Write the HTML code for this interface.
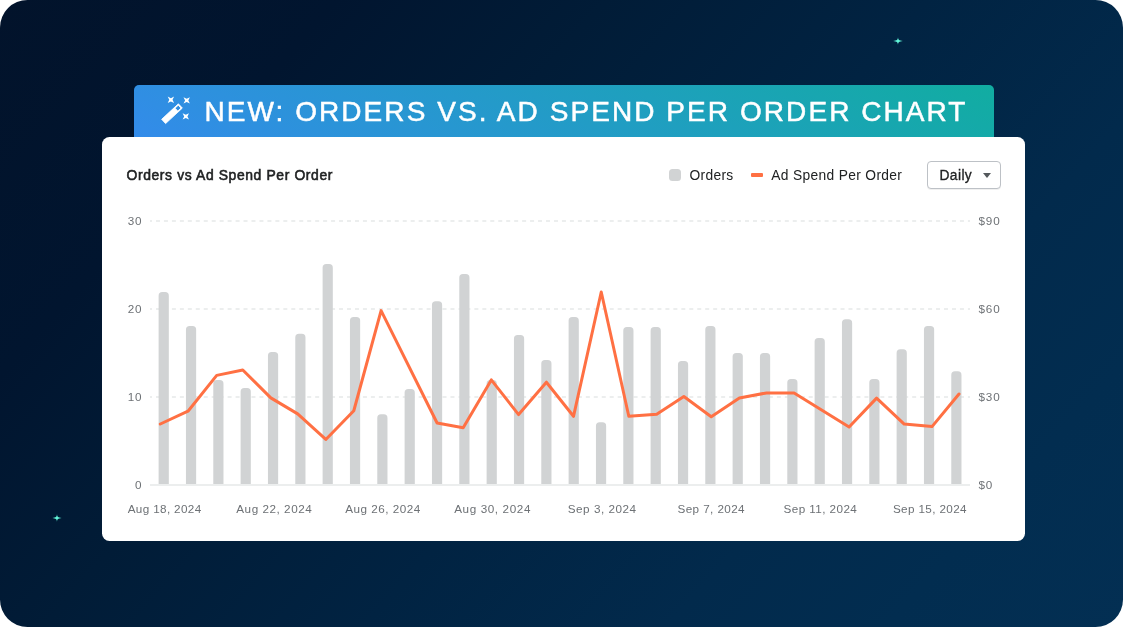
<!DOCTYPE html>
<html lang="en">
<head>
<meta charset="utf-8">
<title>New: Orders vs. Ad Spend Per Order Chart</title>
<style>
*{box-sizing:border-box;margin:0;padding:0}
html,body{width:1123px;height:627px;background:#fff;overflow:hidden}
body{position:relative;font-family:"Liberation Sans",sans-serif;color:#202223}
.bg{position:absolute;left:0;top:0;width:1123px;height:627px;border-radius:27.5px;
  background:linear-gradient(132deg,rgb(2,19,43) 0%,rgb(1,21,47) 20%,rgb(1,28,55) 36%,rgb(1,35,66) 55%,rgb(2,42,76) 73%,rgb(2,45,80) 86%,rgb(3,47,83) 100%)}
.star{position:absolute;width:12px;height:10px;overflow:visible}
.banner{position:absolute;left:134px;top:85px;width:860px;height:53px;border-radius:5px 5px 0 0;
  background:linear-gradient(28.4deg,rgb(51,139,234) 0%,rgb(17,173,161) 100%)}
.banner h1{position:absolute;left:70.5px;top:9.05px;height:36px;line-height:36px;white-space:nowrap;
  font-size:28px;font-weight:400;letter-spacing:2.065px;color:#fff;-webkit-text-stroke:0.5px #fff}
.wand{position:absolute;left:20px;top:6px;width:40px;height:40px;overflow:visible}
.card{position:absolute;left:102px;top:137px;width:923px;height:404px;border-radius:7.5px;background:#fff}
.title{position:absolute;left:24.5px;top:28.2px;height:20px;line-height:20px;font-size:13.9px;font-weight:400;-webkit-text-stroke:0.55px #202223;
  white-space:nowrap;color:#202223;letter-spacing:0.62px}
.legend{position:absolute;top:28.95px;height:20px;line-height:20px;font-size:13.8px;letter-spacing:0.33px;white-space:nowrap;color:#202223}
.sw{position:absolute;left:567px;top:32px;width:12px;height:12px;border-radius:3.5px;background:#d1d3d4}
.ln{position:absolute;left:649px;top:36.3px;width:12px;height:3.4px;border-radius:1px;background:#ff7043}
.select{position:absolute;left:825px;top:24px;width:74px;height:28px;border:1px solid #bdc1c6;border-radius:4px;
  background:#fff;box-shadow:0 1px 0 rgba(0,0,0,.06)}
.select span{position:absolute;left:11.5px;top:4px;height:20px;line-height:20px;font-size:13.8px;font-weight:400;letter-spacing:0.4px;
  -webkit-text-stroke:0.3px #202223;color:#202223}
.select i{position:absolute;left:55px;top:11.2px;width:0;height:0;border-left:4.3px solid transparent;
  border-right:4.3px solid transparent;border-top:5.4px solid #54585c}
svg.chart{position:absolute;left:0;top:0;width:1123px;height:627px}
svg.chart text{font-family:"Liberation Sans",sans-serif;font-size:11.7px;fill:#6d7175}
</style>
</head>
<body>
<div class="bg"></div>
<svg class="star" style="left:891.6px;top:36.2px" viewBox="-6 -5 12 10"><path d="M0-3.7C.35-1 .9-.45 4.9 0 .9.45.35 1 0 3.7-.35 1-.9.45-4.9 0-.9-.45-.35-1 0-3.7z" fill="#62f6d9"/></svg>
<svg class="star" style="left:50.9px;top:513.2px" viewBox="-6 -5 12 10"><path d="M0-3.7C.35-1 .9-.45 4.6 0 .9.45.35 1 0 3.7-.35 1-.9.45-4.6 0-.9-.45-.35-1 0-3.7z" fill="#62f6d9"/></svg>

<div class="banner">
  <svg class="wand" viewBox="0 0 40 40" fill="#fff">
    <g transform="translate(18 22.7) rotate(-42.8)">
      <path fill-rule="evenodd" stroke="#fff" stroke-width="0.8" stroke-linejoin="round" d="M-11.4-2.9H11.4V2.9H-11.4zM6-2V2H10.4V-2z"/>
    </g>
    <path d="M0-4.5 1.15-1.15 4.5 0 1.15 1.15 0 4.5-1.15 1.15-4.5 0-1.15-1.15z" transform="translate(16.9 8.8) rotate(45)"/>
    <path d="M0-4.5 1.15-1.15 4.5 0 1.15 1.15 0 4.5-1.15 1.15-4.5 0-1.15-1.15z" transform="translate(32.7 9.4) rotate(45)"/>
    <path d="M0-4.5 1.15-1.15 4.5 0 1.15 1.15 0 4.5-1.15 1.15-4.5 0-1.15-1.15z" transform="translate(31.8 25.4) rotate(45)"/>
  </svg>
  <h1>NEW: ORDERS VS. AD SPEND PER ORDER CHART</h1>
</div>

<div class="card">
  <div class="title">Orders vs Ad Spend Per Order</div>
  <div class="sw"></div>
  <div class="legend" style="left:587.4px">Orders</div>
  <div class="ln"></div>
  <div class="legend" style="left:669.3px">Ad Spend Per Order</div>
  <div class="select"><span>Daily</span><i></i></div>
</div>

<svg class="chart" viewBox="0 0 1123 627">
  <g stroke="#eceeee" stroke-width="2" stroke-dasharray="3.98 3.98" stroke-dashoffset="1.98"><line x1="150" x2="970" y1="221" y2="221"/><line x1="150" x2="970" y1="309" y2="309"/><line x1="150" x2="970" y1="397" y2="397"/></g>
  <g fill="#d1d3d4"><path d="M158.62 485V295.8a3.7 3.7 0 0 1 3.7 -3.7h2.8a3.7 3.7 0 0 1 3.7 3.7V485z"/><path d="M185.95 485V329.8a3.7 3.7 0 0 1 3.7 -3.7h2.8a3.7 3.7 0 0 1 3.7 3.7V485z"/><path d="M213.28 485V383.8a3.7 3.7 0 0 1 3.7 -3.7h2.8a3.7 3.7 0 0 1 3.7 3.7V485z"/><path d="M240.62 485V391.6a3.7 3.7 0 0 1 3.7 -3.7h2.8a3.7 3.7 0 0 1 3.7 3.7V485z"/><path d="M267.95 485V355.8a3.7 3.7 0 0 1 3.7 -3.7h2.8a3.7 3.7 0 0 1 3.7 3.7V485z"/><path d="M295.28 485V337.4a3.7 3.7 0 0 1 3.7 -3.7h2.8a3.7 3.7 0 0 1 3.7 3.7V485z"/><path d="M322.62 485V267.8a3.7 3.7 0 0 1 3.7 -3.7h2.8a3.7 3.7 0 0 1 3.7 3.7V485z"/><path d="M349.95 485V320.8a3.7 3.7 0 0 1 3.7 -3.7h2.8a3.7 3.7 0 0 1 3.7 3.7V485z"/><path d="M377.28 485V417.9a3.7 3.7 0 0 1 3.7 -3.7h2.8a3.7 3.7 0 0 1 3.7 3.7V485z"/><path d="M404.62 485V392.7a3.7 3.7 0 0 1 3.7 -3.7h2.8a3.7 3.7 0 0 1 3.7 3.7V485z"/><path d="M431.95 485V305a3.7 3.7 0 0 1 3.7 -3.7h2.8a3.7 3.7 0 0 1 3.7 3.7V485z"/><path d="M459.28 485V277.8a3.7 3.7 0 0 1 3.7 -3.7h2.8a3.7 3.7 0 0 1 3.7 3.7V485z"/><path d="M486.62 485V383.8a3.7 3.7 0 0 1 3.7 -3.7h2.8a3.7 3.7 0 0 1 3.7 3.7V485z"/><path d="M513.95 485V338.7a3.7 3.7 0 0 1 3.7 -3.7h2.8a3.7 3.7 0 0 1 3.7 3.7V485z"/><path d="M541.28 485V363.7a3.7 3.7 0 0 1 3.7 -3.7h2.8a3.7 3.7 0 0 1 3.7 3.7V485z"/><path d="M568.62 485V320.8a3.7 3.7 0 0 1 3.7 -3.7h2.8a3.7 3.7 0 0 1 3.7 3.7V485z"/><path d="M595.95 485V425.9a3.7 3.7 0 0 1 3.7 -3.7h2.8a3.7 3.7 0 0 1 3.7 3.7V485z"/><path d="M623.28 485V330.7a3.7 3.7 0 0 1 3.7 -3.7h2.8a3.7 3.7 0 0 1 3.7 3.7V485z"/><path d="M650.62 485V330.7a3.7 3.7 0 0 1 3.7 -3.7h2.8a3.7 3.7 0 0 1 3.7 3.7V485z"/><path d="M677.95 485V364.8a3.7 3.7 0 0 1 3.7 -3.7h2.8a3.7 3.7 0 0 1 3.7 3.7V485z"/><path d="M705.28 485V329.8a3.7 3.7 0 0 1 3.7 -3.7h2.8a3.7 3.7 0 0 1 3.7 3.7V485z"/><path d="M732.62 485V356.6a3.7 3.7 0 0 1 3.7 -3.7h2.8a3.7 3.7 0 0 1 3.7 3.7V485z"/><path d="M759.95 485V356.6a3.7 3.7 0 0 1 3.7 -3.7h2.8a3.7 3.7 0 0 1 3.7 3.7V485z"/><path d="M787.28 485V382.7a3.7 3.7 0 0 1 3.7 -3.7h2.8a3.7 3.7 0 0 1 3.7 3.7V485z"/><path d="M814.62 485V341.8a3.7 3.7 0 0 1 3.7 -3.7h2.8a3.7 3.7 0 0 1 3.7 3.7V485z"/><path d="M841.95 485V322.9a3.7 3.7 0 0 1 3.7 -3.7h2.8a3.7 3.7 0 0 1 3.7 3.7V485z"/><path d="M869.28 485V382.7a3.7 3.7 0 0 1 3.7 -3.7h2.8a3.7 3.7 0 0 1 3.7 3.7V485z"/><path d="M896.62 485V353a3.7 3.7 0 0 1 3.7 -3.7h2.8a3.7 3.7 0 0 1 3.7 3.7V485z"/><path d="M923.95 485V329.8a3.7 3.7 0 0 1 3.7 -3.7h2.8a3.7 3.7 0 0 1 3.7 3.7V485z"/><path d="M951.28 485V374.9a3.7 3.7 0 0 1 3.7 -3.7h2.8a3.7 3.7 0 0 1 3.7 3.7V485z"/></g>
  <line x1="150" x2="970" y1="485" y2="485" stroke="#eceeee" stroke-width="2"/>
  <polyline points="160.3,424 188,411.2 216.7,375.4 242.8,370 270.8,397.9 297.7,413.9 325.8,439.45 353.8,410.75 381.1,310.6 437.1,423 463.2,427.8 491.3,379.9 518.6,414.6 546.4,382.2 573.5,416.3 601.25,292 628.8,416.3 656.7,414.2 683.85,396.5 711.25,416.8 739.4,397.9 766.6,392.9 794.1,392.9 849.1,427 876.6,398.1 904.2,424.1 932,426.6 959,394" fill="none" stroke="#ff7043" stroke-width="3" stroke-linejoin="round" stroke-linecap="round"/>
  <g><text x="142.3" y="225.05" text-anchor="end" letter-spacing="0.75">30</text><text x="142.3" y="313.05" text-anchor="end" letter-spacing="0.75">20</text><text x="142.3" y="401.05" text-anchor="end" letter-spacing="0.75">10</text><text x="142.3" y="489.05" text-anchor="end" letter-spacing="0.75">0</text></g>
  <g><text x="978.4" y="225.05" letter-spacing="0.95">$90</text><text x="978.4" y="313.05" letter-spacing="0.95">$60</text><text x="978.4" y="401.05" letter-spacing="0.95">$30</text><text x="978.4" y="489.05" letter-spacing="0.95">$0</text></g>
  <g><text x="164.63" y="513.3" text-anchor="middle" letter-spacing="0.37">Aug 18, 2024</text><text x="274.27" y="513.3" text-anchor="middle" letter-spacing="0.54">Aug 22, 2024</text><text x="382.95" y="513.3" text-anchor="middle" letter-spacing="0.5">Aug 26, 2024</text><text x="492.61" y="513.3" text-anchor="middle" letter-spacing="0.61">Aug 30, 2024</text><text x="602.16" y="513.3" text-anchor="middle" letter-spacing="0.52">Sep 3, 2024</text><text x="711.25" y="513.3" text-anchor="middle" letter-spacing="0.41">Sep 7, 2024</text><text x="820.41" y="513.3" text-anchor="middle" letter-spacing="0.41">Sep 11, 2024</text><text x="929.93" y="513.3" text-anchor="middle" letter-spacing="0.37">Sep 15, 2024</text></g>
</svg>
</body>
</html>
